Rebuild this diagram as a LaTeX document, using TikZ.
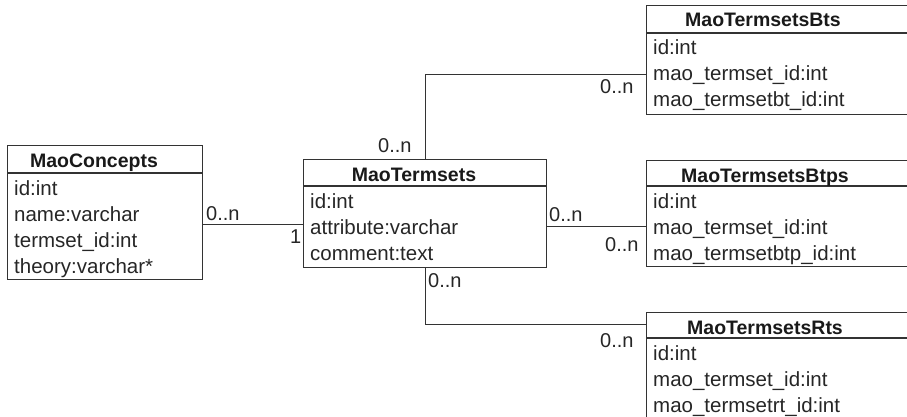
\documentclass[tikz,border=0pt]{standalone}
\usepackage{fontspec}
\setmainfont{Liberation Sans}
% one UML class: name, left, top, width, height, header height, title centre x, title, fields
\newcommand\umlclass[9]{%
  \node[classbox, minimum width=#4pt, minimum height=#5pt] (#1) at (#2,#3) {};
  \draw[boxline] ([yshift=-#6pt]#1.north west) -- ([yshift=-#6pt]#1.north east);
  \node[title] (#1-title) at (#7,#3+22) {#8};
  \foreach \f [count=\i] in {#9}
    \node[field] (#1-f\i) at (#2+7,#3+#6+22+26*\i-26) {\f};
}
\begin{document}
\begin{tikzpicture}[x=1pt,y=-1pt,
  classbox/.style={draw=black!80, line width=1.3pt, rectangle, inner sep=0pt, anchor=north west},
  boxline/.style={draw=black!80, line width=1.3pt},
  title/.style={font=\fontsize{19.5}{23}\selectfont\bfseries, text=black!90, inner sep=0pt, anchor=base},
  field/.style={font=\fontsize{20.5}{26}\selectfont, text=black!85, inner sep=0pt, anchor=base west},
  mult/.style={font=\fontsize{20}{24}\selectfont, text=black!85, inner sep=0pt, anchor=base west},
  link/.style={draw=black!80, line width=0.9pt}]
\useasboundingbox (0,0) rectangle (907,417);
\clip (0,0) rectangle (907,417);

% classes
\umlclass{concepts}{7}{145}{195}{134}{28}{94}{MaoConcepts}{id:int,name:varchar,termset\_id:int,theory:varchar*}
\umlclass{termsets}{303}{159}{243}{108}{27}{414}{MaoTermsets}{id:int,attribute:varchar,comment:text}
\umlclass{bts}{646}{5}{290}{109}{28}{763}{MaoTermsetsBts}{id:int,mao\_termset\_id:int,mao\_termsetbt\_id:int}
\umlclass{btps}{646}{160}{290}{106}{26}{765}{MaoTermsetsBtps}{id:int,mao\_termset\_id:int,mao\_termsetbtp\_id:int}
\umlclass{rts}{646}{312}{290}{130}{26}{765}{MaoTermsetsRts}{id:int,mao\_termset\_id:int,mao\_termsetrt\_id:int}

% associations
\coordinate (j1) at (0,224);
\coordinate (j2) at (0,226);
\coordinate (j3) at (0,74);
\coordinate (j4) at (0,324);
\draw[link] (concepts.east |- j1) -- (termsets.west |- j1);
\draw[link] (termsets.east |- j2) -- (btps.west |- j2);
\draw[link] (termsets.north) -- (termsets.north |- j3) -- (bts.west |- j3);
\draw[link] (termsets.south) -- (termsets.south |- j4) -- (rts.west |- j4);

% multiplicities
\node[mult] (m1) at (206,220) {0..n};
\node[mult] (m2) at (290,243) {1};
\node[mult] (m3) at (549,221) {0..n};
\node[mult] (m4) at (605,251) {0..n};
\node[mult] (m5) at (378,153) {0..n};
\node[mult] (m6) at (600,94) {0..n};
\node[mult] (m7) at (428,287) {0..n};
\node[mult] (m8) at (600,347) {0..n};
\end{tikzpicture}
\end{document}
